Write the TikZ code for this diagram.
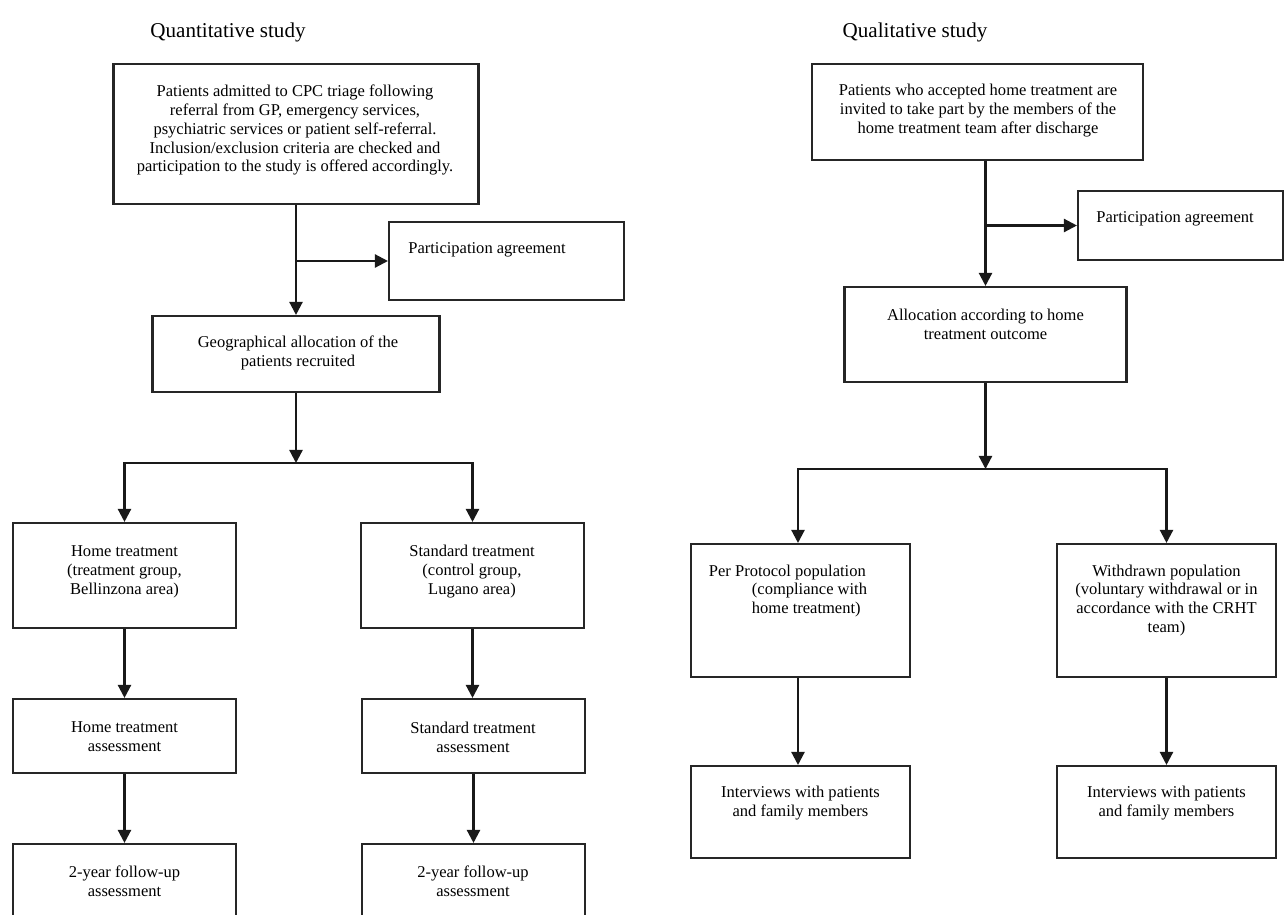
\documentclass[tikz,border=0pt]{standalone}
\usepackage{fontspec}
\setmainfont{Liberation Serif}
\usetikzlibrary{arrows.meta,positioning}

\begin{document}
\begin{tikzpicture}[x=0.02cm,y=-0.02cm,
    box/.style={draw=black!85, line width=1.2pt, inner sep=0pt},
    txt/.style={font=\fontsize{9.4}{10.8}\selectfont, align=center, inner sep=0pt},
    head/.style={font=\fontsize{12}{14}\selectfont, anchor=base, inner sep=0pt},
    arr/.style={line width=1.3pt, draw=black!90, -{Triangle[length=7.5pt,width=7.5pt]}}]
        \useasboundingbox (0,0) rectangle (1285,914);
        % Ueberschriften
        \node[head] (qthead) at (228,37) {Quantitative study};
        \node[head] (qlhead) at (915,37) {Qualitative study};
        % Quantitative Studie
        \node[box, minimum width=7.30cm, minimum height=2.80cm] (screen) at (296,134) {};
        \node[txt] (screen-t) at (295,130) {Patients admitted to CPC triage following\\
            referral from GP, emergency services,\\
            psychiatric services or patient self-referral.\\
            Inclusion/exclusion criteria are checked and\\
            participation to the study is offered accordingly.};
        \node[box, minimum width=4.70cm, minimum height=1.56cm] (agreeL) at (506.5,261) {};
        \node[txt, anchor=west] (agreeL-t) at (408,250) {Participation agreement};
        \node[box, minimum width=5.74cm, minimum height=1.52cm] (geo) at (296,354) {};
        \node[txt] (geo-t) at (298,352.5) {Geographical allocation of the\\patients recruited};
        \coordinate (splitL) at (296,463);
        \node[box, minimum width=4.46cm, minimum height=2.10cm] (home) at (124.5,575.5) {};
        \node[txt] (home-t) at (124.5,572) {Home treatment\\(treatment group,\\Bellinzona area)};
        \node[box, minimum width=4.46cm, minimum height=2.10cm] (std) at (472.5,575.5) {};
        \node[txt] (std-t) at (472,572) {Standard treatment\\(control group,\\Lugano area)};
        \node[box, minimum width=4.46cm, minimum height=1.48cm] (homeass) at (124.5,736) {};
        \node[txt] (homeass-t) at (124.5,737) {Home treatment\\assessment};
        \node[box, minimum width=4.46cm, minimum height=1.48cm] (stdass) at (473.5,736) {};
        \node[txt] (stdass-t) at (473,737) {Standard treatment\\assessment};
        \node[box, minimum width=4.46cm, minimum height=1.48cm] (homefu) at (124.5,881) {};
        \node[txt] (homefu-t) at (124.5,881) {2-year follow-up\\assessment};
        \node[box, minimum width=4.46cm, minimum height=1.48cm] (stdfu) at (473.5,881) {};
        \node[txt] (stdfu-t) at (473,881) {2-year follow-up\\assessment};
        % Pfeile links
        \draw[arr] (screen.south) -- (geo.north);
        \draw[arr] (screen.south |- agreeL.west) -- (agreeL.west);
        \draw[arr] (geo.south) -- (splitL);
        \draw[arr] (splitL) -| (home.north);
        \draw[arr] (splitL) -| (std.north);
        \draw[arr] (home) -- (homeass);
        \draw[arr] (homeass) -- (homefu);
        \draw[arr] (std.south) -- (std.south |- stdass.north);
        \draw[arr] (stdass) -- (stdfu);
        % Qualitative Studie
        \node[box, minimum width=6.62cm, minimum height=1.92cm] (invite) at (977.5,112) {};
        \node[txt] (invite-t) at (978,110.5) {Patients who accepted home treatment are\\
            invited to take part by the members of the\\
            home treatment team after discharge};
        \node[box, minimum width=4.10cm, minimum height=1.38cm] (agreeR) at (1180.5,225.5) {};
        \node[txt, anchor=west] (agreeR-t) at (1096,219) {Participation agreement};
        \node[box, minimum width=5.64cm, minimum height=1.90cm] (alloc) at (985.5,334.5) {};
        \node[txt] (alloc-t) at (985.5,324) {Allocation according to home\\treatment outcome};
        \coordinate (splitR) at (985.5,469);
        \node[box, minimum width=4.38cm, minimum height=2.66cm] (perp) at (800.5,610.5) {};
        \node[txt, align=left] (perp-t) at (788,591) {Per Protocol population\\
            \hspace*{0.86cm}(compliance with\\
            \hspace*{0.86cm}home treatment)};
        \node[box, minimum width=4.38cm, minimum height=2.66cm] (withd) at (1166.5,610.5) {};
        \node[txt] (withd-t) at (1166.5,600.5) {Withdrawn population\\
            (voluntary withdrawal or in\\
            accordance with the CRHT\\team)};
        \node[box, minimum width=4.38cm, minimum height=1.84cm] (intL) at (800.5,812) {};
        \node[txt] (intL-t) at (800.5,803.5) {Interviews with patients\\and family members};
        \node[box, minimum width=4.38cm, minimum height=1.84cm] (intR) at (1166.5,812) {};
        \node[txt] (intR-t) at (1166.5,803.5) {Interviews with patients\\and family members};
        % Pfeile rechts
        \draw[arr] (alloc.north |- invite.south) -- (alloc.north);
        \draw[arr] (alloc.north |- agreeR.west) -- (agreeR.west);
        \draw[arr] (alloc.south) -- (splitR);
        \draw[arr] (splitR) -| ([xshift=-2.5*0.02cm]perp.north);
        \draw[arr] (splitR) -| (withd.north);
        \draw[arr] ([xshift=-2.5*0.02cm]perp.south) -- ([xshift=-2.5*0.02cm]intL.north);
        \draw[arr] (withd) -- (intR);
\end{tikzpicture}
\end{document}
